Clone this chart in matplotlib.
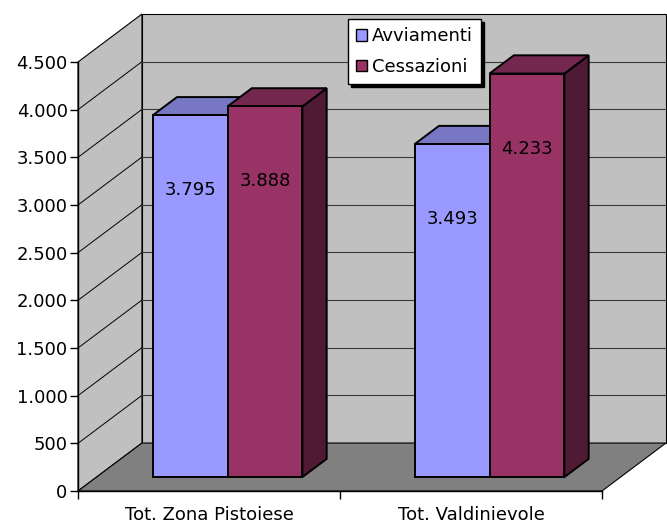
import matplotlib.pyplot as plt
from matplotlib.patches import Polygon, Patch
from matplotlib.ticker import FuncFormatter

categories = ["Tot. Zona Pistoiese", "Tot. Valdinievole"]
series = ["Avviamenti", "Cessazioni"]
avviamenti = [3795, 3493]
cessazioni = [3888, 4233]
y_ticks = list(range(0, 5000, 500))

front_colors = ["#9999FF", "#993366"]
top_colors = ["#7777C4", "#74284F"]
side_colors = ["#5C5C99", "#4E1A34"]

# oblique depth of the plot box (data units) and where the bars sit in it
DX, DY = 0.244, 503
BAR_FRONT, BAR_BACK = 0.29, 0.67
GAP = 1.5
FS = 13


def dotted(v):
    return f"{int(v):,}".replace(",", ".")


fig = plt.figure(figsize=(6.67, 5.27), dpi=100)
ax = fig.add_axes([78 / 667, 36 / 527, 524 / 667, 429 / 527])
n = len(categories)
top = y_ticks[-1]
ax.set_xlim(0, n)
ax.set_ylim(0, top)
ax.patch.set_visible(False)

zo = [1.0]


def poly(pts, fc, lw=0.8):
    zo[0] += 0.01
    ax.add_patch(Polygon(pts, closed=True, facecolor=fc, edgecolor="black",
                         linewidth=lw, clip_on=False, zorder=zo[0],
                         joinstyle="miter"))


# back wall, side wall, floor
poly([(DX, DY), (n + DX, DY), (n + DX, top + DY), (DX, top + DY)], "#C0C0C0")
poly([(0, 0), (DX, DY), (DX, top + DY), (0, top)], "#C0C0C0")
poly([(0, 0), (n, 0), (n + DX, DY), (DX, DY)], "#808080")
for v in y_ticks[1:-1]:
    ax.plot([0, DX], [v, v + DY], color="black", lw=0.7,
            clip_on=False, zorder=1.5)
    ax.plot([DX, n + DX], [v + DY, v + DY], color="#3a3a3a", lw=0.8,
            clip_on=False, zorder=1.5)
zo[0] = 2.0

# 3d columns
w = 1 / (len(series) + GAP)
ddx = (BAR_BACK - BAR_FRONT) * DX
ddy = (BAR_BACK - BAR_FRONT) * DY
for i in range(n):
    for s, vals in enumerate([avviamenti, cessazioni]):
        v = vals[i]
        x0 = i + GAP * w / 2 + s * w + BAR_FRONT * DX
        x1 = x0 + w
        y0 = BAR_FRONT * DY
        y1 = y0 + v
        poly([(x1, y0), (x1 + ddx, y0 + ddy), (x1 + ddx, y1 + ddy), (x1, y1)],
             side_colors[s], 1.4)
        poly([(x0, y1), (x1, y1), (x1 + ddx, y1 + ddy), (x0 + ddx, y1 + ddy)],
             top_colors[s], 1.4)
        poly([(x0, y0), (x1, y0), (x1, y1), (x0, y1)], front_colors[s], 1.4)
        ax.annotate(dotted(v), xy=((x0 + x1) / 2, y1), xytext=(0, -54),
                    textcoords="offset points", ha="center", va="center",
                    fontsize=FS, color="black", zorder=10,
                    annotation_clip=False)

# axes
for side in ["top", "right"]:
    ax.spines[side].set_visible(False)
for side in ["left", "bottom"]:
    ax.spines[side].set_zorder(3)
    ax.spines[side].set_linewidth(1.0)
ax.set_yticks(y_ticks)
ax.yaxis.set_major_formatter(FuncFormatter(lambda v, p: dotted(v)))
ax.tick_params(axis="y", direction="out", length=5.5, width=1, pad=2,
               labelsize=FS)
ax.set_xticks(range(n + 1))
ax.set_xticklabels([])
ax.set_xticks([i + 0.5 for i in range(n)], minor=True)
ax.set_xticklabels(categories, minor=True, fontsize=FS)
ax.tick_params(axis="x", which="major", direction="out", length=6, width=1)
ax.tick_params(axis="x", which="minor", length=0, pad=11)

handles = [Patch(facecolor=c, edgecolor="black", lw=1) for c in front_colors]
leg = ax.legend(handles, series, loc="upper left",
                bbox_to_anchor=(0.515, 1.10), borderaxespad=0,
                fancybox=False, edgecolor="black", framealpha=1,
                shadow={"facecolor": "black", "edgecolor": "black", "alpha": 1},
                fontsize=FS, handlelength=0.6, handleheight=0.6,
                handletextpad=0.3, borderpad=0.45, labelspacing=0.7)
leg.set_zorder(20)

fig.savefig("out.png", dpi=100)
